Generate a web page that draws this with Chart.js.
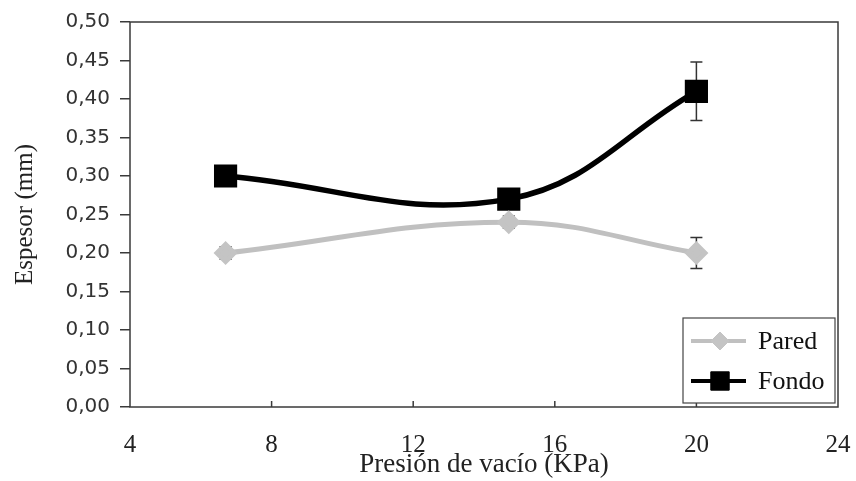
<!DOCTYPE html>
<html>
<head>
<meta charset="utf-8">
<script src="https://cdn.jsdelivr.net/npm/chart.js@4/dist/chart.umd.min.js"></script>
<style>
  html, body { margin: 0; padding: 0; background: #fff; }
  #wrap { width: 856px; height: 481px; position: relative; }
</style>
</head>
<body>
<div id="wrap"><canvas id="espesor"></canvas></div>
<script>
// data
const presion = [6.7, 14.7, 20];
const pared = [0.20, 0.24, 0.20];
const paredErr = [0.008, 0.008, 0.02];
const fondo = [0.30, 0.27, 0.41];
const fondoErr = [0.005, 0.005, 0.038];
const xTicks = [4, 8, 12, 16, 20, 24];
const yTicks = [0, 0.05, 0.10, 0.15, 0.20, 0.25, 0.30, 0.35, 0.40, 0.45, 0.50];

const AXIS = '#3a3a3a';
const SERIF = '"Liberation Serif", "Times New Roman", serif';

function pts(ys) {
  return presion.map((x, i) => ({ x: x, y: ys[i] }));
}

// frame, inward x ticks, error bars (under the markers), legend box
const extras = {
  id: 'extras',
  beforeDatasetsDraw(chart) {
    const { ctx, chartArea: a } = chart;
    const xs = chart.scales.x, ys = chart.scales.y;
    ctx.save();
    ctx.strokeStyle = AXIS;
    ctx.lineWidth = 1.5;
    ctx.strokeRect(a.left, a.top, a.right - a.left, a.bottom - a.top);
    xTicks.slice(1, -1).forEach(v => {
      const px = xs.getPixelForValue(v);
      ctx.beginPath();
      ctx.moveTo(px, a.bottom);
      ctx.lineTo(px, a.bottom - 6);
      ctx.stroke();
    });

    ctx.strokeStyle = '#333';
    ctx.lineWidth = 1.5;
    const bars = (vals, errs) => {
      presion.forEach((x, i) => {
        const px = xs.getPixelForValue(x);
        const top = ys.getPixelForValue(vals[i] + errs[i]);
        const bot = ys.getPixelForValue(vals[i] - errs[i]);
        ctx.beginPath();
        ctx.moveTo(px, top); ctx.lineTo(px, bot);
        ctx.moveTo(px - 6, top); ctx.lineTo(px + 6, top);
        ctx.moveTo(px - 6, bot); ctx.lineTo(px + 6, bot);
        ctx.stroke();
      });
    };
    bars(pared, paredErr);
    bars(fondo, fondoErr);
    ctx.restore();
  },
  afterDatasetsDraw(chart) {
    const { ctx, chartArea: a } = chart;
    ctx.save();
    // legend box, lower right inside plot
    const w = 152, h = 85;
    const bx = a.right - w - 3, by = a.bottom - h - 4;
    ctx.fillStyle = '#fff';
    ctx.fillRect(bx, by, w, h);
    ctx.strokeStyle = '#444';
    ctx.lineWidth = 1.2;
    ctx.strokeRect(bx, by, w, h);
    chart.data.datasets.forEach((ds, i) => {
      const cy = by + 23 + i * 40;
      ctx.strokeStyle = ds.borderColor;
      ctx.lineWidth = 4;
      ctx.beginPath();
      ctx.moveTo(bx + 8, cy); ctx.lineTo(bx + 63, cy);
      ctx.stroke();
      ctx.fillStyle = ds.pointBackgroundColor;
      ctx.strokeStyle = ds.pointBorderColor;
      ctx.lineWidth = 1;
      Chart.helpers.drawPoint(ctx, { pointStyle: ds.pointStyle, radius: ds.legendRadius, borderWidth: 1 }, bx + 37, cy);
      ctx.fillStyle = '#111';
      ctx.font = '26px ' + SERIF;
      ctx.textBaseline = 'middle';
      ctx.textAlign = 'left';
      ctx.fillText(ds.label, bx + 75, cy + 1);
    });
    ctx.restore();
  }
};

new Chart(document.getElementById('espesor').getContext('2d'), {
  type: 'line',
  data: {
    datasets: [{
      label: 'Pared',
      data: pts(pared),
      borderColor: '#c0c0c0',
      backgroundColor: '#c0c0c0',
      borderWidth: 5,
      pointStyle: 'rectRot',
      pointRadius: 8.5,
      legendRadius: 9,
      pointBackgroundColor: '#c4c4c4',
      pointBorderColor: '#c4c4c4',
      tension: 0.4,
      fill: false
    }, {
      label: 'Fondo',
      data: pts(fondo),
      borderColor: '#000',
      backgroundColor: '#000',
      borderWidth: 5.5,
      pointStyle: 'rect',
      pointRadius: 12.5,
      legendRadius: 13,
      pointBackgroundColor: '#000',
      pointBorderColor: '#000',
      tension: 0.4,
      fill: false
    }]
  },
  options: {
    responsive: true,
    maintainAspectRatio: false,
    animation: false,
    layout: { padding: { top: 20, right: 16, left: 0, bottom: 0 } },
    plugins: { legend: { display: false }, tooltip: { enabled: false } },
    scales: {
      x: {
        type: 'linear',
        min: 4, max: 24,
        afterBuildTicks(s) { s.ticks = xTicks.map(v => ({ value: v })); },
        afterFit(s) { s.height = 74; s.paddingLeft = 0; s.paddingRight = 0; },
        grid: { display: false, drawTicks: false },
        border: { display: false },
        ticks: {
          color: '#222',
          padding: 23,
          maxRotation: 0,
          font: { family: SERIF, size: 25 }
        },
        title: {
          display: true,
          text: 'Presión de vacío (KPa)',
          color: '#222',
          padding: { top: -6, bottom: 0 },
          font: { family: SERIF, size: 27 }
        }
      },
      y: {
        min: 0, max: 0.5,
        afterBuildTicks(s) { s.ticks = yTicks.map(v => ({ value: v })); },
        afterFit(s) { s.width = 130; },
        grid: { drawOnChartArea: false, drawTicks: true, tickLength: 10, color: AXIS, lineWidth: 1.5 },
        border: { display: false },
        ticks: {
          color: '#333',
          padding: 10,
          font: { family: '"DejaVu Sans", sans-serif', size: 20 },
          callback: v => v.toFixed(2).replace('.', ',')
        },
        title: {
          display: true,
          text: 'Espesor (mm)',
          color: '#222',
          padding: { top: 10, bottom: 0 },
          font: { family: SERIF, size: 25 }
        }
      }
    }
  },
  plugins: [extras]
});
</script>
</body>
</html>
